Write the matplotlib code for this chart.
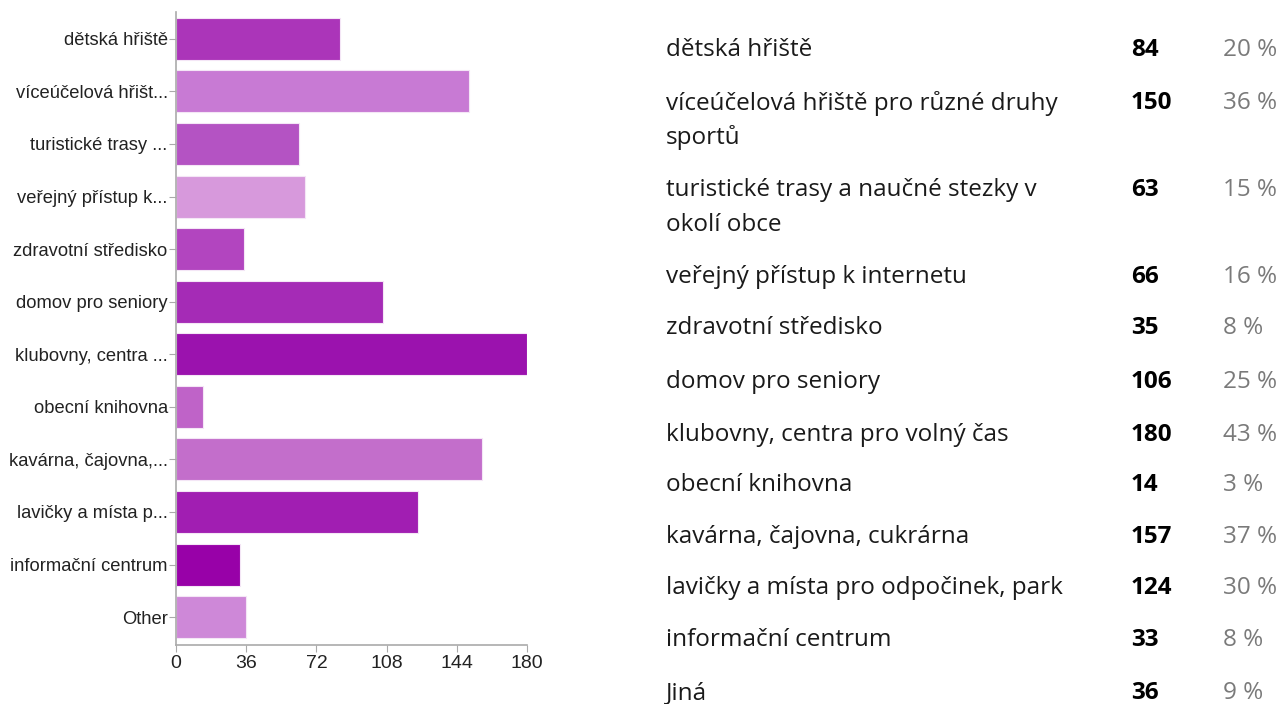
import matplotlib
matplotlib.use("Agg")
import matplotlib.pyplot as plt

# Survey answers: short labels on the bar chart, full labels in the table
short_labels = ["dětská hřiště", "víceúčelová hřišt...", "turistické trasy ...",
                "veřejný přístup k...", "zdravotní středisko", "domov pro seniory",
                "klubovny, centra ...", "obecní knihovna", "kavárna, čajovna,...",
                "lavičky a místa p...", "informační centrum", "Other"]
full_labels = ["dětská hřiště", "víceúčelová hřiště pro různé druhy\nsportů",
               "turistické trasy a naučné stezky v\nokolí obce",
               "veřejný přístup k internetu", "zdravotní středisko",
               "domov pro seniory", "klubovny, centra pro volný čas",
               "obecní knihovna", "kavárna, čajovna, cukrárna",
               "lavičky a místa pro odpočinek, park", "informační centrum", "Jiná"]
counts = [84, 150, 63, 66, 35, 106, 180, 14, 157, 124, 33, 36]
percents = [20, 36, 15, 16, 8, 25, 43, 3, 37, 30, 8, 9]
bar_colors = ["#AB35B9", "#C87AD4", "#B453C3", "#D799DC", "#B245BF", "#A52BB6",
              "#9B12AE", "#BF63C8", "#C36ECB", "#A11EB2", "#9801A8", "#CE88D8"]
x_ticks = [0, 36, 72, 108, 144, 180]

W, H = 1283, 704
fig = plt.figure(figsize=(W / 100, H / 100), dpi=100)

# ---- bar chart ----
ax = fig.add_axes([176 / W, 1 - 645 / H, (527 - 176) / W, (645 - 12) / H])
ypos = list(range(len(counts)))
ax.barh(ypos, counts, height=0.8, color=bar_colors, edgecolor="#f4e6f6",
        linewidth=0.8)
ax.set_xlim(0, 180)
ax.set_ylim(11.53, -0.51)
ax.set_yticks(ypos)
ax.set_yticklabels(short_labels, fontsize=13.2, family="Liberation Sans",
                   color="#222222")
ax.set_xticks(x_ticks)
ax.set_xticklabels([str(t) for t in x_ticks], fontsize=14,
                   family="Liberation Sans", color="#222222")
for side in ("top", "right"):
    ax.spines[side].set_visible(False)
for side in ("left", "bottom"):
    ax.spines[side].set_color("#aaaaaa")
    ax.spines[side].set_linewidth(1.2)
ax.tick_params(axis="y", length=5, color="#aaaaaa", pad=1)
ax.tick_params(axis="x", length=5, color="#aaaaaa", pad=2)

# ---- table of answers ----
row_y = [50, 103, 190, 277, 328, 382, 435, 485, 537, 588, 640, 693]
line_gap = 35
tfont = "Open Sans"
for lbl, c, p, y in zip(full_labels, counts, percents, row_y):
    for k, line in enumerate(lbl.split("\n")):
        fig.text(666 / W, 1 - (y + k * line_gap) / H, line, fontsize=17.5,
                 family=tfont, color="#1a1a1a", va="center", ha="left")
    fy = 1 - y / H
    fig.text(1131 / W, fy, str(c), fontsize=17.5, family=tfont,
             fontweight="bold", color="#000000", va="center", ha="left")
    fig.text(1223 / W, fy, f"{p} %", fontsize=17.5, family=tfont,
             color="#7a7a7a", va="center", ha="left")

fig.savefig("out.png", dpi=100, facecolor="white")
